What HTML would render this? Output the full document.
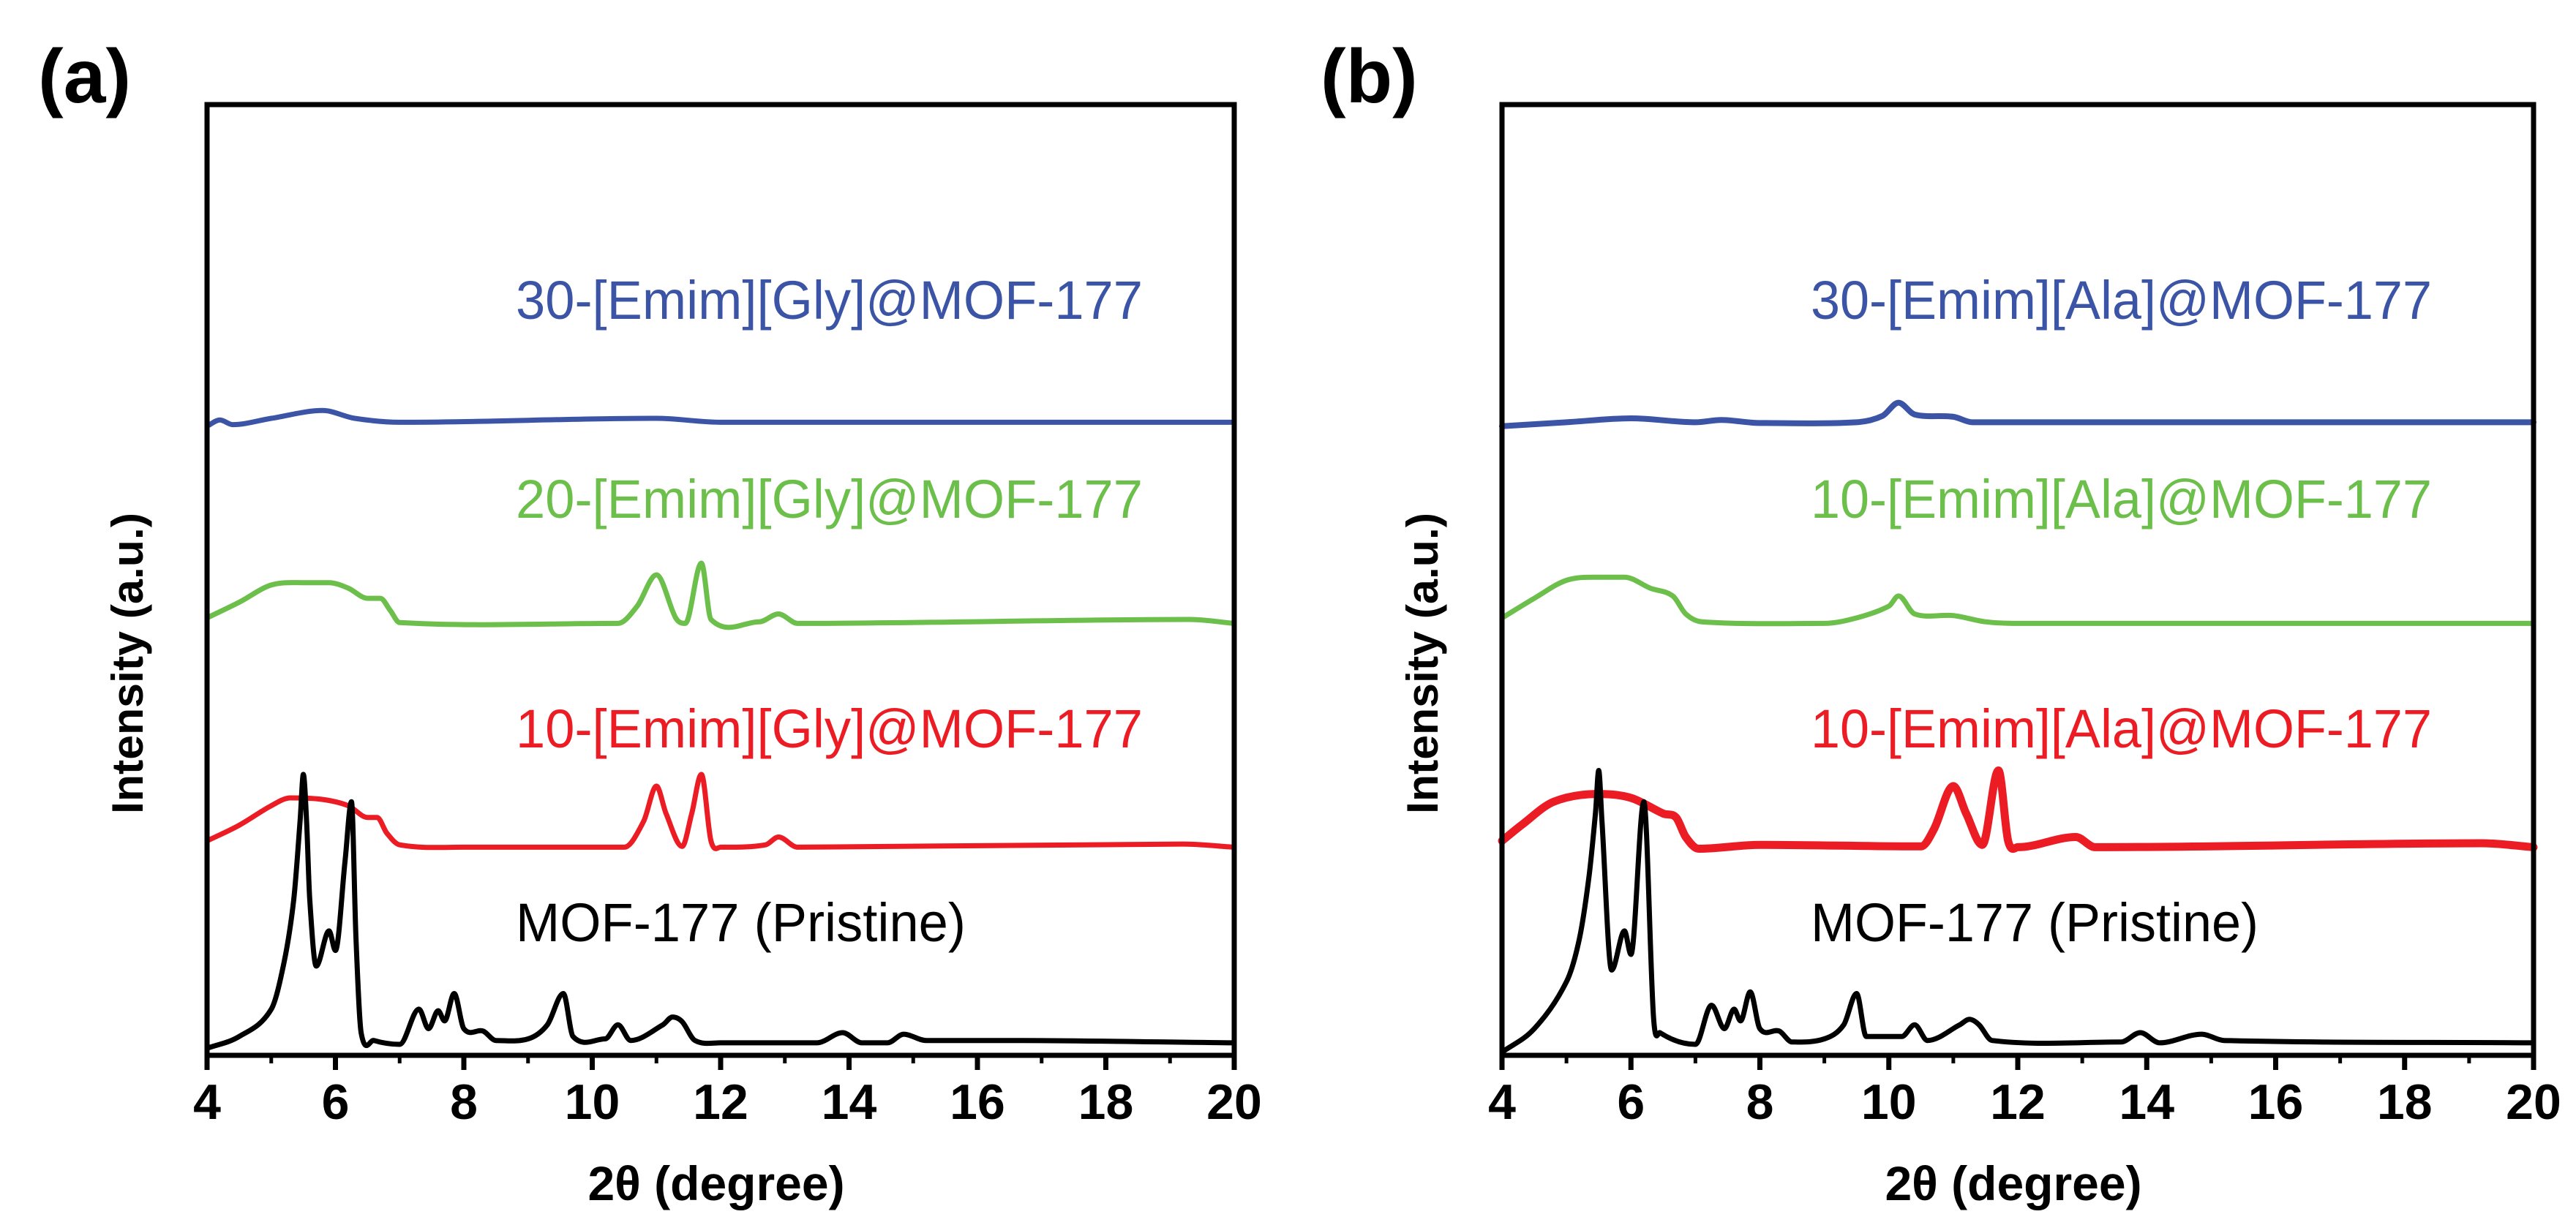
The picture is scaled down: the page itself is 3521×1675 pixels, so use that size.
<!DOCTYPE html>
<html><head><meta charset="utf-8"><style>
html,body{margin:0;padding:0;background:#fff}
svg{display:block;font-family:"Liberation Sans",sans-serif}
</style></head><body>
<svg id="fig" width="3521" height="1675" viewBox="0 0 3521 1675"></svg>
<script>
const xTicks=[4,6,8,10,12,14,16,18,20];
const xMinor=[5,7,9,11,13,15,17,19];
// panel a
const aBlackX=[4,4.5,5,5.2,5.35,5.45,5.5,5.55,5.6,5.7,5.9,6.0,6.15,6.25,6.32,6.4,6.6,7,7.3,7.45,7.6,7.7,7.85,8.0,8.3,8.5,9,9.3,9.55,9.7,10.2,10.4,10.6,11.1,11.25,11.4,11.6,12,13.5,13.9,14.2,14.6,14.85,15.2,16.4,20];
const aBlackY=[9,24,59,119,199,300,359,300,199,114,159,134,249,324,149,29,19,14,59,34,57,44,79,34,31,19,21,39,79,24,21,39,19,39,49,43,19,16,16,29,16,16,27,19,19,16];
const aRedX=[4,4.5,5,5.3,5.8,6.2,6.5,6.65,6.8,7.0,8,10.5,10.8,11.0,11.15,11.4,11.55,11.7,11.85,12,12.7,12.9,13.2,19.2,20];
const aRedY=[274,294,319,329,327,319,304,304,284,269,266,266,299,344,309,267,309,359,274,266,269,279,266,270,266];
const aGreenX=[4,4.5,5,5.5,5.9,6.2,6.5,6.7,6.85,7.0,10.4,10.7,11.0,11.3,11.45,11.7,11.85,12.6,12.9,13.2,19.3,20];
const aGreenY=[559,579,601,604,604,597,584,584,569,553,552,574,614,559,552,629,557,554,564,552,557,552];
const aBlueX=[4,4.2,4.4,5,5.8,6.3,7,11,12,20];
const aBlueY=[804,812,806,814,824,814,809,814,809,809];
// panel b
const bBlackX=[4,4.5,5,5.2,5.35,5.45,5.5,5.55,5.7,5.9,6.0,6.2,6.35,6.45,7.0,7.25,7.45,7.6,7.7,7.85,8.0,8.3,8.5,9,9.3,9.5,9.65,10.2,10.4,10.6,11.1,11.25,11.4,11.6,13.6,13.9,14.2,14.85,15.2,20];
const bBlackY=[4,34,94,149,229,310,364,300,109,159,129,324,49,29,14,64,34,59,44,81,34,31,17,21,39,79,24,24,39,19,39,46,39,19,17,29,16,27,19,16];
const bRedX=[4,4.3,4.8,5.5,6,6.5,6.7,6.85,7.05,8,10.5,10.7,11.0,11.2,11.45,11.7,11.85,12,12.9,13.2,19.2,20];
const bRedY=[274,294,324,334,329,309,304,279,264,269,267,289,344,309,269,364,274,266,279,266,271,266];
const bGreenX=[4,4.5,5,5.5,5.9,6.3,6.65,6.85,7.1,9,9.5,10,10.15,10.4,11,11.5,12,20];
const bGreenY=[559,584,607,611,611,597,587,564,554,552,559,574,587,564,562,554,552,552];
const bBlueX=[4,5,6,7,7.4,8,9.5,9.9,10.15,10.4,11,11.3,20];
const bBlueY=[804,809,814,809,812,808,809,817,834,819,816,809,809];

const NS="http://www.w3.org/2000/svg";
const svg=document.getElementById('fig');
function mk(tag,attrs,parent){const e=document.createElementNS(NS,tag);for(const k in attrs)e.setAttribute(k,attrs[k]);(parent||svg).appendChild(e);return e;}
const TOP=143,BOT=1443,YMAX=(BOT-TOP)/1.07;

function smooth(P){
  const n=P.length, m=[];
  for(let i=0;i<n;i++){
    const a=P[Math.max(0,i-1)],b=P[Math.min(n-1,i+1)];
    let s=(b[1]-a[1])/(b[0]-a[0]);
    // limit slopes at local extrema to avoid overshoot
    if(i>0&&i<n-1){
      const s1=(P[i][1]-P[i-1][1]),s2=(P[i+1][1]-P[i][1]);
      if(s1*s2<=0) s=0;
    }
    m.push(s);
  }
  let d='M'+P[0][0].toFixed(1)+' '+P[0][1].toFixed(1);
  for(let i=0;i<n-1;i++){
    const p1=P[i],p2=P[i+1],dx=(p2[0]-p1[0])/3;
    d+=` C${(p1[0]+dx).toFixed(1)} ${(p1[1]+m[i]*dx).toFixed(1)} ${(p2[0]-dx).toFixed(1)} ${(p2[1]-m[i+1]*dx).toFixed(1)} ${p2[0].toFixed(1)} ${p2[1].toFixed(1)}`;
  }
  return d;
}

function panel(id,left,right,series,labels,tag){
  const g=mk('g',{});
  
  
  const xs=v=>left+(v-4)/16*(right-left);
  const ys=v=>BOT-v/YMAX*(BOT-TOP);
  series.forEach(s=>{
    const pts=s.x.map((v,i)=>[xs(v),ys(s.y[i])]);
    const p=mk('path',{d:smooth(pts),fill:'none',stroke:s.c,'stroke-width':s.w,'stroke-linejoin':'round','stroke-linecap':'round'},g);
    
    
  });
  const fr=mk('rect',{x:left,y:TOP,width:right-left,height:BOT-TOP,fill:'none',stroke:'#000','stroke-width':7},g);
  
  
  xTicks.forEach(t=>{
    const l=mk('line',{x1:xs(t),x2:xs(t),y1:BOT,y2:BOT+20,stroke:'#000','stroke-width':7},g);
    
    
    const tx=mk('text',{x:xs(t),y:1530,'text-anchor':'middle','font-size':68,'font-weight':'bold'},g);
    tx.textContent=t;
    
    
  });
  xMinor.forEach(t=>{
    const l=mk('line',{x1:xs(t),x2:xs(t),y1:BOT,y2:BOT+11,stroke:'#000','stroke-width':5},g);
    
    
  });
  const xt=mk('text',{x:(left+right)/2-6,y:1641,'text-anchor':'middle','font-size':66,'font-weight':'bold'},g);
  xt.textContent='2θ (degree)';
  
  
  const yx=left-88;
  const yt=mk('text',{x:yx,y:907,'text-anchor':'middle','font-size':60,'font-weight':'bold',transform:`rotate(-90 ${yx} 907)`,textLength:412,lengthAdjust:'spacingAndGlyphs'},g);
  yt.textContent='Intensity (a.u.)';
  
  
  labels.forEach(L=>{
    const t=mk('text',{x:left+422,y:L.y,'font-size':74,fill:L.c,textLength:L.w,lengthAdjust:'spacingAndGlyphs'},g);
    t.textContent=L.t;
    
    
  });
  const pl=mk('text',{x:tag.x,y:140,'font-size':104,'font-weight':'bold'},g);
  pl.textContent=tag.t;
  
  
}
const BL='#3b54a5',GR='#6cbf4a',RD='#ec1c24';
panel('a',283,1687,[
 {x:aBlueX,y:aBlueY,c:BL,w:7,n:'series-30-gly'},
 {x:aGreenX,y:aGreenY,c:GR,w:7,n:'series-20-gly'},
 {x:aRedX,y:aRedY,c:RD,w:7,n:'series-10-gly'},
 {x:aBlackX,y:aBlackY,c:'#000',w:7,n:'series-pristine'}],
 [{t:'30-[Emim][Gly]@MOF-177',c:BL,y:436,w:857},
  {t:'20-[Emim][Gly]@MOF-177',c:GR,y:708,w:857},
  {t:'10-[Emim][Gly]@MOF-177',c:RD,y:1022,w:857},
  {t:'MOF-177 (Pristine)',c:'#000',y:1287,w:615}],{x:52,t:'(a)'});
panel('b',2053,3463,[
 {x:bBlueX,y:bBlueY,c:BL,w:8,n:'series-30-ala'},
 {x:bGreenX,y:bGreenY,c:GR,w:7,n:'series-10-ala-green'},
 {x:bRedX,y:bRedY,c:RD,w:11,n:'series-10-ala'},
 {x:bBlackX,y:bBlackY,c:'#000',w:7,n:'series-pristine'}],
 [{t:'30-[Emim][Ala]@MOF-177',c:BL,y:436,w:849},
  {t:'10-[Emim][Ala]@MOF-177',c:GR,y:708,w:849},
  {t:'10-[Emim][Ala]@MOF-177',c:RD,y:1022,w:849},
  {t:'MOF-177 (Pristine)',c:'#000',y:1287,w:612}],{x:1805,t:'(b)'});
</script>
</body></html>
